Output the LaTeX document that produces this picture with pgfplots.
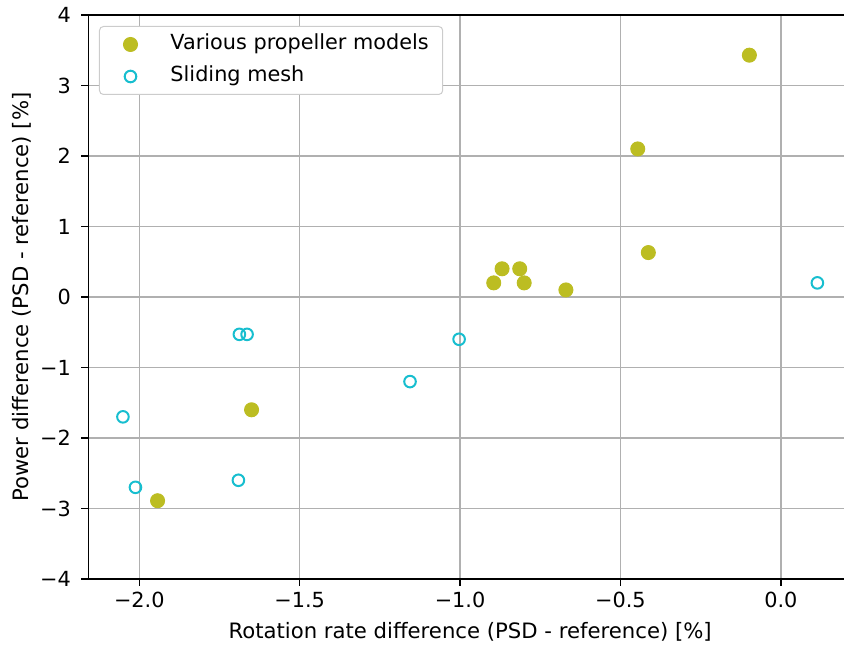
\documentclass[border=0pt]{standalone}
\usepackage{pgfplots}
\pgfplotsset{compat=1.18}
\usepackage{fontspec}
\setmainfont{DejaVu Sans}
\definecolor{molive}{HTML}{BCBD22}
\definecolor{mcyan}{HTML}{17BECF}
\definecolor{gridgray}{HTML}{B0B0B0}
\definecolor{legendgray}{HTML}{CCCCCC}
\pgfplotstableread{
x y
-0.098 3.43
-0.446 2.10
-0.413 0.63
-0.869 0.40
-0.814 0.40
-0.895 0.20
-0.800 0.20
-0.670 0.10
-1.650 -1.60
-1.943 -2.89
}\propdata
\pgfplotstableread{
x y
0.114 0.20
-1.003 -0.60
-1.156 -1.20
-1.688 -0.53
-1.664 -0.53
-2.051 -1.70
-2.012 -2.70
-1.691 -2.60
}\slidedata
\begin{document}
\begin{tikzpicture}
\begin{axis}[
  name=ax,
  scale only axis, width=381.85pt, height=282pt,
  xmin=-2.159, xmax=0.222, ymin=-4, ymax=4,
  tick align=outside, tick pos=left, major tick length=3.5pt,
  tick style={black, line width=0.8pt},
  axis line style={line width=0.8pt},
  grid=major, grid style={gridgray, line width=0.8pt},
  xtick={-2,-1.5,-1,-0.5,0}, xticklabels={−2.0,−1.5,−1.0,−0.5,0.0},
  ytick={-4,-3,-2,-1,0,1,2,3,4}, yticklabels={−4,−3,−2,−1,0,1,2,3,4},
  tick label style={font=\fontsize{10.4}{12}\selectfont},
  xticklabel style={anchor=north, inner sep=0pt, yshift=-3pt},
  yticklabel style={anchor=east, inner sep=0pt, xshift=-5pt},
  xlabel={Rotation rate difference (PSD - reference) [\%]},
  ylabel={Power difference (PSD - reference) [\%]},
  xlabel style={at={(axis description cs:0.5,-0.1064)}, anchor=base, font=\fontsize{10.6}{12}\selectfont},
  ylabel style={at={(axis description cs:-0.0782,0.5)}, anchor=base, font=\fontsize{10.6}{12}\selectfont},
  legend cell align=left,
  legend image code/.code={\path (-10pt,0pt) (17.5pt,0pt); \draw[#1] plot coordinates {(0pt,0pt)};},
  legend style={
    at={(0.014,0.9805)}, anchor=north west,
    draw=legendgray, fill=white, rounded corners=2pt, line width=0.5pt,
    font=\fontsize{10.4}{12}\selectfont,
    inner xsep=5pt, inner ysep=2.25pt, row sep=2.5pt,
    nodes={text height=7.5pt, text depth=2pt, inner sep=2pt},
  },
]
\addplot[only marks, mark=*, mark size=3.5pt, line width=0.5pt, draw=molive, fill=molive] table[x=x,y=y] {\propdata};
\addlegendentry{Various propeller models}
\addplot[only marks, mark=o, mark size=2.9pt, line width=1pt, draw=mcyan] table[x=x,y=y] {\slidedata};
\addlegendentry{Sliding mesh}
\end{axis}
\pgfresetboundingbox
\path (ax.south west) ++(-44.15pt,-34.5pt) coordinate (bbA);
\path (ax.north west) ++(377.85pt,7.5pt) coordinate (bbB);
\useasboundingbox (bbA) rectangle (bbB);
\end{tikzpicture}
\end{document}
